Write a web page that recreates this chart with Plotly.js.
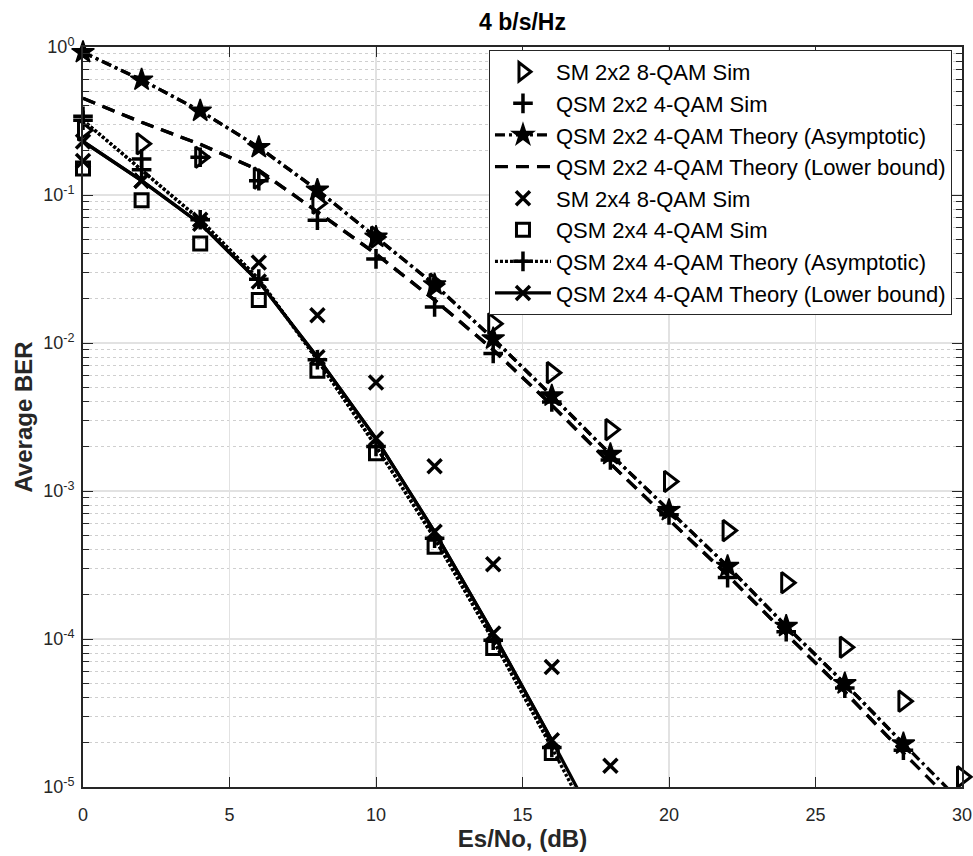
<!DOCTYPE html>
<html>
<head>
<meta charset="utf-8">
<script src="https://cdn.plot.ly/plotly-3.0.1.min.js"></script>
<style>html,body{margin:0;padding:0;background:#fff;}#chart{width:973px;height:856px;}</style>
</head>
<body>
<div id="chart"></div>
<script>
// Es/No (dB) sample points
const snr = [0, 2, 4, 6, 8, 10, 12, 14, 16, 18, 20, 22, 24, 26, 28, 30];

// Series values (average BER)
const sm22Sim   = [0.274, 0.222, 0.18, 0.13, 0.088, 0.052, 0.025, 0.0135, 0.0063, 0.0026, 0.00116, 0.00054, 0.00024, 0.000088, 0.000038, 0.0000117];
const qsm22Sim  = [0.34, 0.175, 0.18, 0.125, 0.0675, 0.037, 0.0175, 0.0085, 0.0040, 0.00162, 0.00069, 0.00026, 0.000112, 0.0000466, 0.0000177];
const qsm22Asym = [0.92, 0.60, 0.37, 0.21, 0.108, 0.052, 0.0248, 0.0107, 0.0044, 0.00177, 0.00074, 0.00031, 0.000122, 0.00005, 0.0000196, 0.0000078];
const qsm22Lb   = [0.45, 0.31, 0.22, 0.147, 0.077, 0.040, 0.0195, 0.0090, 0.0038, 0.00153, 0.00064, 0.00027, 0.000108, 0.000044, 0.000017, 0.0000068];
const sm24Sim   = [0.17, 0.125, 0.068, 0.035, 0.0154, 0.0054, 0.00147, 0.00032, 0.0000646, 0.0000139];
const qsm24Sim  = [0.151, 0.092, 0.047, 0.0195, 0.0065, 0.0018, 0.00042, 0.000087, 0.000017];
const qsm24Asym = [0.32, 0.148, 0.068, 0.027, 0.0077, 0.0020, 0.00048, 0.000098, 0.0000185, 0.0000032];
const qsm24Lb   = [0.23, 0.125, 0.064, 0.026, 0.0080, 0.00226, 0.00053, 0.000109, 0.0000207, 0.0000037];

// Legend labels
const names = [
  'SM 2x2 8-QAM Sim',
  'QSM 2x2 4-QAM Sim',
  'QSM 2x2 4-QAM Theory (Asymptotic)',
  'QSM 2x2 4-QAM Theory (Lower bound)',
  'SM 2x4 8-QAM Sim',
  'QSM 2x4 4-QAM Sim',
  'QSM 2x4 4-QAM Theory (Asymptotic)',
  'QSM 2x4 4-QAM Theory (Lower bound)'
];

// Tick labels
const yTickVals = [1e-5, 1e-4, 1e-3, 1e-2, 1e-1, 1];
const yTickText = ['10<sup>-5</sup>', '10<sup>-4</sup>', '10<sup>-3</sup>', '10<sup>-2</sup>', '10<sup>-1</sup>', '10<sup>0</sup>'];

const YMIN = 1e-5;
const minorVals = [];
for (let e = -5; e < 0; e++) for (let d = 2; d <= 9; d++) minorVals.push(d * Math.pow(10, e));

const K = '#000000';
const LW = 3.3;
const traces = [];

function simTrace(name, ys, symbol, size, lw) {
  return {
    x: snr.slice(0, ys.length), y: ys, name: name, mode: 'markers', type: 'scatter',
    cliponaxis: false,
    marker: {symbol: symbol, size: size, color: K, line: {color: K, width: lw}}
  };
}
function theory(name, ys, dash, symbol, size, lw) {
  const xs = snr.slice(0, ys.length);
  // full line, clipped to the plot area
  traces.push({
    x: xs, y: ys, mode: 'lines', type: 'scatter', showlegend: false, hoverinfo: 'skip',
    line: {color: K, width: LW, dash: dash}
  });
  // in-range part with markers (markers not clipped)
  const xi = [], yi = [];
  ys.forEach((v, i) => { if (v >= YMIN) { xi.push(xs[i]); yi.push(v); } });
  const t = {
    x: xi, y: yi, name: name, mode: symbol ? 'lines+markers' : 'lines', type: 'scatter', cliponaxis: false,
    line: {color: K, width: LW, dash: dash}
  };
  if (symbol) t.marker = {symbol: symbol, size: size, color: K, line: {color: K, width: lw}};
  traces.push(t);
}

traces.push(simTrace(names[0], sm22Sim, 'triangle-right-open', 18, 3));
traces.push(simTrace(names[1], qsm22Sim, 'cross-thin', 14, 3.5));
theory(names[2], qsm22Asym, '10px,4px,3px,4px', 'star', 17, 1.5);
theory(names[3], qsm22Lb, '13px,8px', null, 0, 0);
traces.push(simTrace(names[4], sm24Sim, 'x-thin', 14, 3.5));
traces.push(simTrace(names[5], qsm24Sim, 'square-open', 13, 3));
theory(names[6], qsm24Asym, '3px,2px', 'cross-thin', 14, 3.5);
theory(names[7], qsm24Lb, 'solid', 'x-thin', 14, 3.5);

const axisCommon = {
  showline: true, linecolor: '#262626', linewidth: 2, mirror: 'ticks',
  ticks: 'inside', ticklen: 10, tickwidth: 1, tickcolor: '#262626',
  zeroline: false, showgrid: true, gridcolor: '#e2e2e2', gridwidth: 1.5,
  tickfont: {family: 'Liberation Sans, Arial, sans-serif', size: 18, color: '#262626'}
};

const layout = {
  width: 973, height: 856,
  margin: {l: 83, r: 11, t: 47, b: 69},
  paper_bgcolor: '#fff', plot_bgcolor: '#fff',
  font: {family: 'Liberation Sans, Arial, sans-serif', color: '#000'},
  title: {text: '<b>4 b/s/Hz</b>', font: {size: 23, color: '#000'}, x: 0.5, xref: 'paper', xanchor: 'center', y: 0.974, yref: 'container', yanchor: 'middle'},
  showlegend: true,
  legend: {
    x: 0.9886, xanchor: 'right', y: 0.996, yanchor: 'top',
    bgcolor: '#fff', bordercolor: '#262626', borderwidth: 1,
    font: {size: 22, color: '#000'}, itemwidth: 56, tracegroupgap: 0
  },
  xaxis: Object.assign({}, axisCommon, {
    range: [0, 30], dtick: 5, tick0: 0, ticklabelstandoff: 10,
    title: {text: '<b>Es/No, (dB)</b>', font: {size: 24, color: '#262626'}, standoff: 4}
  }),
  yaxis: Object.assign({}, axisCommon, {
    type: 'log', range: [-5, 0],
    tickmode: 'array', tickvals: yTickVals, ticktext: yTickText, ticklabelstandoff: 3,
    minor: {tickmode: 'array', tickvals: minorVals, ticks: 'inside', ticklen: 6, tickcolor: '#262626',
            showgrid: true, gridcolor: '#cfcfcf', griddash: 'dot', gridwidth: 1},
    title: {text: '<b>Average BER</b>', font: {size: 24, color: '#262626'}, standoff: 4}
  })
};

Plotly.newPlot('chart', traces, layout, {staticPlot: true, displayModeBar: false});
</script>
</body>
</html>
